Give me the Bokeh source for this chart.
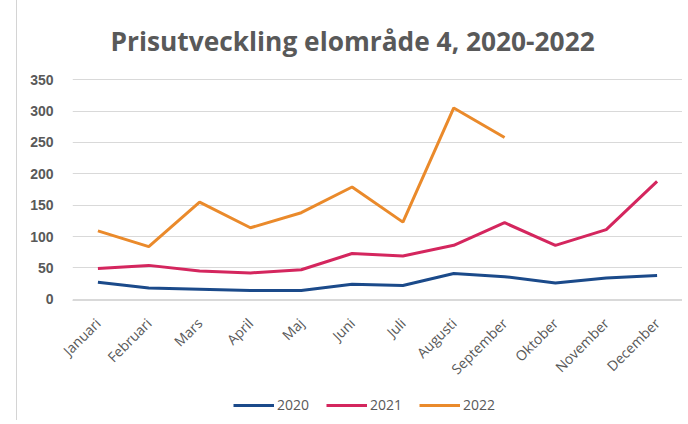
import math
from bokeh.plotting import figure
from bokeh.layouts import column
from bokeh.models import Range1d, FactorRange, Legend, LegendItem, Title, FixedTicker
from bokeh.embed import file_html
from bokeh.resources import INLINE

months = ["Januari", "Februari", "Mars", "April", "Maj", "Juni", "Juli",
          "Augusti", "September", "Oktober", "November", "December"]
v2020 = [27, 18, 16, 14, 14, 24, 22, 41, 36, 26, 34, 38]
v2021 = [49, 54, 45, 42, 47, 73, 69, 86, 122, 86, 111, 188]
v2022 = [109, 84, 155, 114, 138, 179, 123, 305, 258]
y_ticks = [0, 50, 100, 150, 200, 250, 300, 350]
series_names = ["2020", "2021", "2022"]
series_colors = ["#1b4a8a", "#d4265e", "#ea8a2b"]
title_text = "Prisutveckling elområde 4, 2020-2022"

GRAY = "#595959"
GRID = "#d9d9d9"

p = figure(x_range=FactorRange(factors=months), y_range=Range1d(-2, 352),
           width=665, height=388, output_backend="svg", toolbar_location=None,
           min_border_left=55, min_border_right=0, min_border_top=78,
           min_border_bottom=88)
p.outline_line_color = None

p.title = Title(text=title_text, align="left", offset=38, standoff=40,
                text_font="Open Sans", text_font_size="26.3px",
                text_font_style="bold", text_color=GRAY)

p.line(months, v2020, line_color=series_colors[0], line_width=3)
p.line(months, v2021, line_color=series_colors[1], line_width=3)
p.line(months[:len(v2022)], v2022, line_color=series_colors[2], line_width=3)

p.yaxis.ticker = FixedTicker(ticks=y_ticks)
p.ygrid.ticker = FixedTicker(ticks=y_ticks)
p.ygrid.grid_line_color = GRID
p.xgrid.grid_line_color = None
p.yaxis.axis_line_color = None
p.yaxis.major_tick_line_color = None
p.yaxis.minor_tick_line_color = None
p.yaxis.major_label_standoff = 13
p.yaxis.major_label_text_font = "Liberation Sans"
p.yaxis.major_label_text_font_style = "bold"
p.yaxis.major_label_text_font_size = "14px"
p.yaxis.major_label_text_color = GRAY

p.xaxis.axis_line_color = GRID
p.xaxis.major_tick_line_color = None
p.xaxis.minor_tick_line_color = None
p.xaxis.major_label_orientation = math.pi / 4
p.xaxis.major_label_standoff = 14
p.xaxis.major_label_text_font = "Open Sans"
p.xaxis.major_label_text_font_size = "14px"
p.xaxis.major_label_text_color = GRAY

# legend strip below the chart (frame aligned with the main plot)
lf = figure(width=665, height=32, output_backend="svg", toolbar_location=None,
            x_axis_type=None, y_axis_type=None, title=None,
            min_border_left=55, min_border_right=0, min_border_top=0,
            min_border_bottom=0, x_range=Range1d(0, 1), y_range=Range1d(0, 1))
lf.grid.visible = False
lf.outline_line_color = None
items = []
for name, col in zip(series_names, series_colors):
    r = lf.line([float("nan")], [float("nan")], line_color=col, line_width=3)
    items.append(LegendItem(label=name, renderers=[r]))
legend = Legend(items=items, orientation="horizontal", location=(161, 6),
                glyph_width=41, glyph_height=14, label_standoff=3, spacing=17,
                padding=0, margin=0, border_line_color=None,
                background_fill_alpha=0, label_text_font="Open Sans",
                label_text_font_size="14px", label_text_color=GRAY)
lf.add_layout(legend)

layout = column(p, lf, spacing=0)
layout.styles = {"margin-left": "16px", "border-left": "1px solid #d4d4d4"}

open("out.html", "w").write(file_html(layout, INLINE))
